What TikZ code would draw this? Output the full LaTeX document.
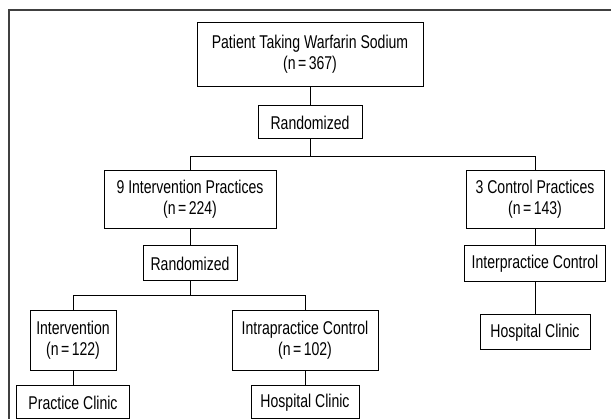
\documentclass[tikz,border=0pt]{standalone}
\usepackage{fontspec}
\setmainfont{Liberation Sans}[FakeStretch=0.76]
\usepackage{tikz}
\usetikzlibrary{positioning}

\newcommand{\nval}[1]{(n\kern2.5pt=\kern2.5pt#1)}

\begin{document}
\begin{tikzpicture}[x=1pt, y=-1pt, font=\fontsize{18.5}{21.5}\selectfont]
    \tikzstyle{block} = [rectangle, draw, line width=0.9pt, align=center, inner sep=0pt]
    \tikzstyle{line} = [draw, line width=0.9pt]
    \tikzstyle{frame} = [draw=black!75, line width=2pt]

    \useasboundingbox (0,0) rectangle (611,419);
    \path [frame] (9,419) -- (9,10) -- (611,10);

    \node [block, minimum width=226pt, minimum height=64pt] (patient) at (310,54) {Patient Taking Warfarin Sodium\\\nval{367}};
    \node [block, minimum width=104pt, minimum height=33pt, below=19pt of patient] (rand1) {Randomized};

    \node [block, minimum width=172pt, minimum height=58pt] (ivp) at (190,199) {9 Intervention Practices\\\nval{224}};
    \node [block, minimum width=138pt, minimum height=58pt] (ctrl) at (535,199) {3 Control Practices\\\nval{143}};
    \node [block, minimum width=94pt, minimum height=35pt, below=17pt of ivp] (rand2) {Randomized};
    \node [block, minimum width=141pt, minimum height=36pt, below=17pt of ctrl] (inter) {Interpractice Control};
    \node [block, minimum width=110pt, minimum height=35pt, below=32pt of inter] (hosp1) {Hospital Clinic};

    \node [block, minimum width=86pt, minimum height=60pt] (intv) at (73,340) {Intervention\\\nval{122}};
    \node [block, minimum width=146pt, minimum height=60pt] (intra) at (305,340) {Intrapractice Control\\\nval{102}};
    \node [block, minimum width=113pt, minimum height=33pt, below=15pt of intv] (pclin) {Practice Clinic};
    \node [block, minimum width=108pt, minimum height=33pt, below=15pt of intra] (hosp2) {Hospital Clinic};

    \coordinate (split1) at (310,156);
    \coordinate (split2) at (190,295);

    \path [line] (patient) -- (rand1);
    \path [line] (rand1) -- (split1);
    \path [line] (split1) -| (ivp);
    \path [line] (split1) -| (ctrl);
    \path [line] (ivp) -- (rand2);
    \path [line] (ctrl) -- (inter);
    \path [line] (inter) -- (hosp1);
    \path [line] (rand2) -- (split2);
    \path [line] (split2) -| (intv);
    \path [line] (split2) -| (intra);
    \path [line] (intv) -- (pclin);
    \path [line] (intra) -- (hosp2);
\end{tikzpicture}
\end{document}
